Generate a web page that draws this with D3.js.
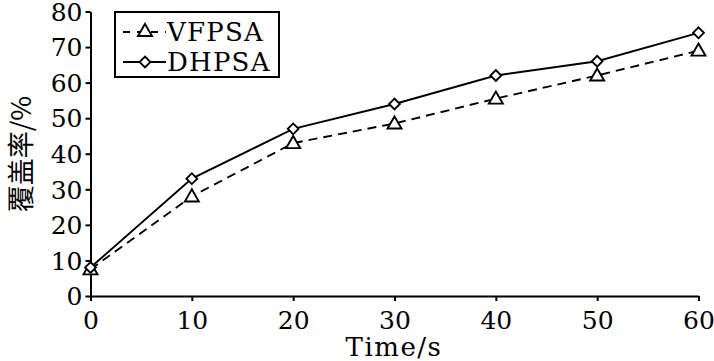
<!DOCTYPE html>
<html><head><meta charset="utf-8">
<script src="https://cdn.jsdelivr.net/npm/d3@7"></script>
<style>body{margin:0;background:#fff}svg{display:block}</style>
</head><body>
<svg id="c" width="714" height="361"></svg>
<script>
const times = [0, 10, 20, 30, 40, 50, 60];
const vfpsa = [7.5, 28, 43, 48.5, 55.5, 62, 69];
const dhpsa = [8, 33, 47, 54, 62, 66, 74];
const xTicks = [0, 10, 20, 30, 40, 50, 60];
const yTicks = [0, 10, 20, 30, 40, 50, 60, 70, 80];
const seriesNames = ["VFPSA", "DHPSA"];
const xTitle = "Time/s";
const yTitle = "覆盖率/%";

const svg = d3.select("#c");
const serif = "'DejaVu Serif','Liberation Serif',serif";
const x = d3.scaleLinear().domain([0, 60]).range([90.5, 698.5]);
const y = d3.scaleLinear().domain([0, 80]).range([296, 11.5]);

// axes
const xa = svg.append("g").attr("transform", `translate(0,${y(0)})`)
  .call(d3.axisBottom(x).tickValues(xTicks).tickSize(5).tickSizeOuter(0).tickPadding(9));
const ya = svg.append("g").attr("transform", `translate(${x(0)},0)`)
  .call(d3.axisLeft(y).tickValues(yTicks).tickSize(5).tickSizeOuter(0).tickPadding(3));
[xa, ya].forEach(a => {
  a.selectAll("path.domain").attr("stroke", "#000").attr("stroke-width", 2);
  a.selectAll(".tick line").attr("stroke", "#000").attr("stroke-width", 2);
  a.selectAll(".tick text").attr("fill", "#000").style("font-family", serif)
    .style("font-size", "25px");
});
xa.selectAll(".tick text").attr("dy", "0.75em");
ya.selectAll(".tick text").attr("dy", "0.35em");

// lines
const line = d3.line().x((d, i) => x(times[i])).y(d => y(d));
svg.append("path").datum(vfpsa).attr("d", line).attr("fill", "none")
  .attr("stroke", "#000").attr("stroke-width", 1.9).attr("stroke-dasharray", "9,6");
svg.append("path").datum(dhpsa).attr("d", line).attr("fill", "none")
  .attr("stroke", "#000").attr("stroke-width", 1.9);

const tri = d3.symbol().type(d3.symbolTriangle).size(85);
const dia = d3.symbol().type(d3.symbolSquare).size(58);
svg.append("g").selectAll("path").data(vfpsa).join("path")
  .attr("d", tri).attr("transform", (d, i) => `translate(${x(times[i])},${y(d) + 1})`)
  .attr("fill", "#fff").attr("stroke", "#000").attr("stroke-width", 1.9);
svg.append("g").selectAll("path").data(dhpsa).join("path")
  .attr("d", dia).attr("transform", (d, i) => `translate(${x(times[i])},${y(d)}) rotate(45)`)
  .attr("fill", "#fff").attr("stroke", "#000").attr("stroke-width", 1.9);

// legend
const lg = svg.append("g");
lg.append("rect").attr("x", 115).attr("y", 12).attr("width", 164).attr("height", 65)
  .attr("fill", "#fff").attr("stroke", "#000").attr("stroke-width", 2);
const rows = [32, 62];
seriesNames.forEach((n, i) => {
  const ry = rows[i];
  lg.append("line").attr("x1", 123).attr("x2", 166).attr("y1", ry).attr("y2", ry)
    .attr("stroke", "#000").attr("stroke-width", 1.9)
    .attr("stroke-dasharray", i === 0 ? "7,7" : null);
  lg.append("path").attr("d", i === 0 ? tri : dia)
    .attr("transform", i === 0 ? `translate(145,${ry})` : `translate(145,${ry}) rotate(45)`)
    .attr("fill", "#fff").attr("stroke", "#000").attr("stroke-width", 1.9);
  lg.append("text").attr("x", 167).attr("y", ry).attr("dy", "0.36em").text(n)
    .style("font-family", serif).style("font-size", "26px").attr("letter-spacing", "1.2px");
});

// titles
svg.append("text").attr("x", 394).attr("y", 356).attr("text-anchor", "middle").text(xTitle)
  .style("font-family", serif).style("font-size", "26px").attr("letter-spacing", "1.5px");
svg.append("text").attr("transform", "translate(31,154) rotate(-90)").attr("text-anchor", "middle")
  .text(yTitle).style("font-family", "'Noto Sans CJK SC',sans-serif").style("font-size", "27px");
</script>
</body></html>
